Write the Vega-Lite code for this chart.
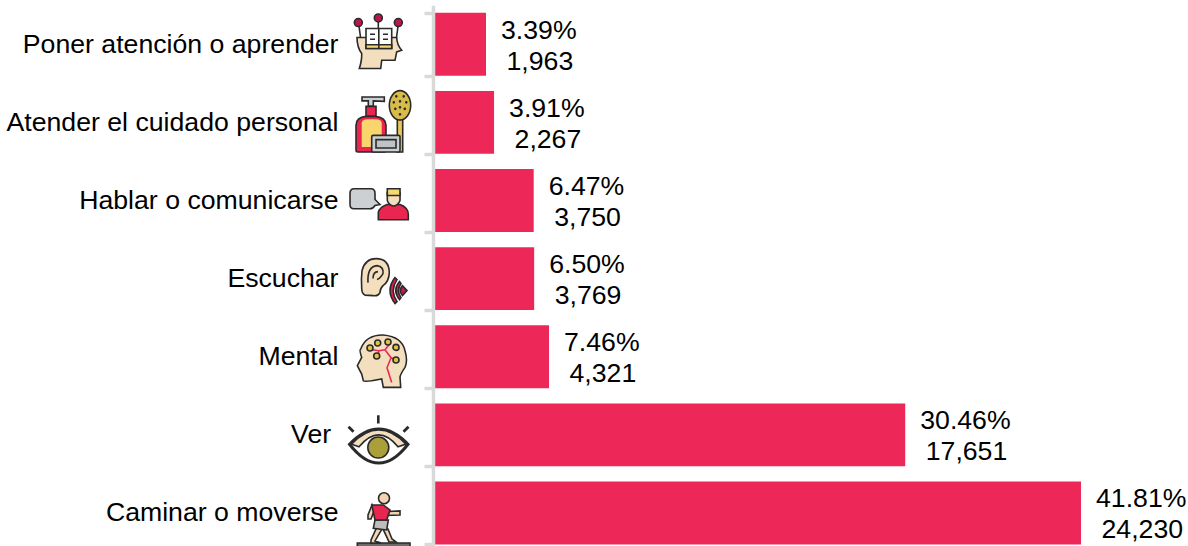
{"$schema":"https://vega.github.io/schema/vega-lite/v6.json","width":755,"height":546,"autosize":{"type":"none"},"padding":{"left":433,"top":0,"right":0,"bottom":0},"background":"white","config":{"view":{"stroke":null}},
"datasets":{"rows":[{"c":"Poner atención o aprender","p":3.39,"pct":"3.39%","n":"1,963"},{"c":"Atender el cuidado personal","p":3.91,"pct":"3.91%","n":"2,267"},{"c":"Hablar o comunicarse","p":6.47,"pct":"6.47%","n":"3,750"},{"c":"Escuchar","p":6.50,"pct":"6.50%","n":"3,769"},{"c":"Mental","p":7.46,"pct":"7.46%","n":"4,321"},{"c":"Ver","p":30.46,"pct":"30.46%","n":"17,651"},{"c":"Caminar o moverse","p":41.81,"pct":"41.81%","n":"24,230"}],
"icons":[
{"c":"Poner atención o aprender","part":"head1"},{"c":"Poner atención o aprender","part":"book"},{"c":"Poner atención o aprender","part":"strip"},{"c":"Poner atención o aprender","part":"booklines"},{"c":"Poner atención o aprender","part":"stems"},{"c":"Poner atención o aprender","part":"pins"},
{"c":"Atender el cuidado personal","part":"pump"},{"c":"Atender el cuidado personal","part":"neck"},{"c":"Atender el cuidado personal","part":"bottle"},{"c":"Atender el cuidado personal","part":"label"},{"c":"Atender el cuidado personal","part":"handle"},{"c":"Atender el cuidado personal","part":"brush"},{"c":"Atender el cuidado personal","part":"holes"},{"c":"Atender el cuidado personal","part":"soap"},{"c":"Atender el cuidado personal","part":"soapin"},
{"c":"Hablar o comunicarse","part":"bubble"},{"c":"Hablar o comunicarse","part":"torso"},{"c":"Hablar o comunicarse","part":"face"},{"c":"Hablar o comunicarse","part":"hair"},
{"c":"Escuchar","part":"ear"},{"c":"Escuchar","part":"earin"},{"c":"Escuchar","part":"waves"},{"c":"Escuchar","part":"wavedot"},
{"c":"Mental","part":"skull"},{"c":"Mental","part":"veins"},{"c":"Mental","part":"dots"},
{"c":"Ver","part":"eyeout"},{"c":"Ver","part":"eyewhite"},{"c":"Ver","part":"iris"},{"c":"Ver","part":"lid"},{"c":"Ver","part":"lashes"},
{"c":"Caminar o moverse","part":"platform"},{"c":"Caminar o moverse","part":"legs"},{"c":"Caminar o moverse","part":"shorts"},{"c":"Caminar o moverse","part":"arms"},{"c":"Caminar o moverse","part":"shirt"},{"c":"Caminar o moverse","part":"walkhead"}
]},
"layer":[
{"data":{"name":"rows"},"mark":{"type":"bar","color":"#EE2759"},"encoding":{
"x":{"field":"p","type":"quantitative","stack":null,"scale":{"domain":[0,41.81],"range":[0.5,648],"nice":false,"zero":false},"axis":null},
"y":{"field":"c","type":"nominal","sort":null,"title":null,"scale":{"domain":["Poner atención o aprender","Atender el cuidado personal","Hablar o comunicarse","Escuchar","Mental","Ver","Caminar o moverse"],"range":[5.2,552],"paddingInner":0.195,"paddingOuter":0.0975},
"axis":{"zindex":1,"domainColor":"#D9D9D9","domainWidth":3.5,"tickColor":"#D9D9D9","tickWidth":3.5,"tickSize":9,"tickBand":"extent","labelPadding":86,"labelFont":"Liberation Sans","labelFontSize":26.67,"labelColor":"black","labelLimit":1000,"title":null,"labelExpr":"datum.label=='Ver'?'Ver\u00a0\u200b':datum.label"}}}},
{"data":{"name":"rows"},"mark":{"type":"text","align":"left","baseline":"middle","dx":15,"dy":-13.5,"font":"Liberation Sans","fontSize":26.67,"color":"black"},"encoding":{"x":{"field":"p","type":"quantitative","scale":{"domain":[0,41.81],"range":[0.5,648],"nice":false,"zero":false},"axis":null},"y":{"field":"c","type":"nominal","sort":null},"text":{"field":"pct"}}},
{"data":{"name":"rows"},"mark":{"type":"text","align":"left","baseline":"middle","dx":20.5,"dy":17.5,"font":"Liberation Sans","fontSize":26.67,"color":"black"},"encoding":{"x":{"field":"p","type":"quantitative","scale":{"domain":[0,41.81],"range":[0.5,648],"nice":false,"zero":false},"axis":null},"y":{"field":"c","type":"nominal","sort":null},"text":{"field":"n"}}},
{"data":{"name":"icons"},"mark":{"type":"point","filled":true,"opacity":1,"size":4,"strokeWidth":1.6},"encoding":{
"x":{"datum":-3.454,"type":"quantitative","scale":{"domain":[0,41.81],"range":[0.5,648],"nice":false,"zero":false},"axis":null},
"y":{"field":"c","type":"nominal","sort":null},
"shape":{"field":"part","type":"nominal","legend":null,"scale":{"domain":["head1","book","strip","booklines","stems","pins","pump","neck","bottle","label","handle","brush","holes","soap","soapin","bubble","torso","face","hair","ear","earin","waves","wavedot","skull","veins","dots","eyeout","eyewhite","iris","lid","lashes","platform","legs","shorts","arms","shirt","walkhead"],
"range":[
"M-20.7 24.3 Q-18 16 -18.3 9.3 Q-23 3 -23 -6.7 L16.7 -6.7 Q17 1 21.7 6 L16.7 7.7 L15 16 L1.7 16 L0.7 24.3 Z",
"M-14 -15.7 L11.7 -15.7 L11.7 4.3 L-14 4.3 Z",
"M-14 0.5 L11.7 0.5 L11.7 4.3 L-14 4.3 Z",
"M-1.2 -15.7 L-1.2 4.3 M-10 -10 L-5 -10 M-10 -5 L-5 -5 M3 -10 L8 -10 M3 -5 L8 -5",
"M-21 -18 L-19.5 -7 M-1.7 -23 L-1.7 -15.7 M18 -18 L16.5 -7",
"M-25.7 -21.7 A4 4 0 1 0 -17.7 -21.7 A4 4 0 1 0 -25.7 -21.7 Z M-5.7 -26.3 A4 4 0 1 0 2.3 -26.3 A4 4 0 1 0 -5.7 -26.3 Z M14.3 -21.7 A4 4 0 1 0 22.3 -21.7 A4 4 0 1 0 14.3 -21.7 Z",
"M-18 -25.3 L4.3 -25.3 L4.3 -21 L-6.7 -21.5 L-6.7 -16 L-11.7 -16 L-11.7 -21.5 L-18 -21.5 Z",
"M-14 -16 L-4 -16 L-4 -6 L-14 -6 Z",
"M-24 28 L-24 3 Q-24 -5 -14 -6 L-5 -6 Q6 -5 6 3 L6 28 Q6 29.7 4 29.7 L-22 29.7 Q-24 29.7 -24 28 Z",
"M-18.3 24.7 L-18.3 1 Q-18.3 -3 -12 -3 L-5 -3 Q1.7 -3 1.7 1 L1.7 24.7 Z",
"M17.3 -3 L22.7 -3 L22.7 29.7 L17.3 29.7 Z",
"M9.3 -17 A10.7 14.7 0 1 0 30.7 -17 A10.7 14.7 0 1 0 9.3 -17 Z",
"M15 -26 A1.3 1.3 0 1 0 17.6 -26 A1.3 1.3 0 1 0 15 -26 Z M22.4 -26 A1.3 1.3 0 1 0 25 -26 A1.3 1.3 0 1 0 22.4 -26 Z M12.5 -20 A1.3 1.3 0 1 0 15.1 -20 A1.3 1.3 0 1 0 12.5 -20 Z M18.7 -21 A1.3 1.3 0 1 0 21.3 -21 A1.3 1.3 0 1 0 18.7 -21 Z M25 -20 A1.3 1.3 0 1 0 27.6 -20 A1.3 1.3 0 1 0 25 -20 Z M14 -13.5 A1.3 1.3 0 1 0 16.6 -13.5 A1.3 1.3 0 1 0 14 -13.5 Z M18.7 -15 A1.3 1.3 0 1 0 21.3 -15 A1.3 1.3 0 1 0 18.7 -15 Z M23.5 -13.5 A1.3 1.3 0 1 0 26.1 -13.5 A1.3 1.3 0 1 0 23.5 -13.5 Z M18.7 -8 A1.3 1.3 0 1 0 21.3 -8 A1.3 1.3 0 1 0 18.7 -8 Z",
"M-8.3 14.5 Q-8.3 13 -7 13 L18.5 13 Q20 13 20 14.5 L20 28 Q20 29.7 18.5 29.7 L-7 29.7 Q-8.3 29.7 -8.3 28 Z",
"M-4 17.3 L16 17.3 L16 25.7 L-4 25.7 Z",
"M-26 -11.7 L-9 -11.7 Q-5 -11.7 -5 -7 L-5 -1 L0 4 L-5 5 Q-7 8.3 -10 8.3 L-26 8.3 Q-30 8.3 -30 4 L-30 -7 Q-30 -11.7 -26 -11.7 Z",
"M-1.7 19.3 L-1.7 12 Q-1 7 7 4 L20 4 Q28.3 7 28.3 14 L28.3 19.3 Z",
"M7.3 -8 L20 -8 L20 0 Q18 5 13.7 5.5 Q9 5 7.3 0 Z",
"M7.3 -5 L7.3 -11.7 L20 -11.7 L20 -5 Z",
"M-18.3 10 Q-19 0 -18 -8 Q-15 -20 -4 -20 Q9 -20 9.3 -6 Q9 3 3 7 Q0 10 0 14 Q-2 18 -7 17 L-15 16.5 Q-18.3 15 -18.3 10 Z",
"M-12 4 Q-13 -12 -3 -13 Q4 -12 3 -5 Q0 0 -3 1 M-7 0 Q-7 -7 -2 -7",
"M15 -1 Q5 12 15 25 L17 23 Q9.5 12 17 1 Z M19.5 3 Q12 12 19.5 21 L21 19 Q16 12 21 5 Z",
"M22.5 7 Q18 12 22.5 17 L27 12 Z",
"M3.3 30.7 L1.7 22.3 L-8.3 24 Q-16 25 -16.7 24 L-18.3 17.3 L-22.7 9 L-18.3 0.7 Q-21 -7 -19.3 -7.7 Q-14 -22 3.3 -21.7 Q22 -20 25 -6 Q28 4 25 10.7 Q20 18 20 20.7 L20.7 30.7 Z",
"M-8 -7 L-1 -6 L5 -7 L9 -12 M5 -7 L11 1 L7 11 L11.7 25.7 M11 1 L15 3 M-1 -6 L-2 -2",
"M-13 -8.7 A3 3 0 1 0 -7 -8.7 A3 3 0 1 0 -13 -8.7 Z M-5.3 -13.7 A3 3 0 1 0 0.7 -13.7 A3 3 0 1 0 -5.3 -13.7 Z M5 -14.7 A3 3 0 1 0 11 -14.7 A3 3 0 1 0 5 -14.7 Z M13 -9.3 A3 3 0 1 0 19 -9.3 A3 3 0 1 0 13 -9.3 Z M-6.3 -0.7 A3 3 0 1 0 -0.3 -0.7 A3 3 0 1 0 -6.3 -0.7 Z M13 3.3 A3 3 0 1 0 19 3.3 A3 3 0 1 0 13 3.3 Z",
"M-32.5 9.3 Q-1.2 -24 30 9.3 Q-1.2 50 -32.5 9.3 Z",
"M-28.5 9.3 Q-1.2 -19 26 9.3 Q-1.2 44 -28.5 9.3 Z",
"M-12.2 12.7 A10.5 10.5 0 1 0 8.8 12.7 A10.5 10.5 0 1 0 -12.2 12.7 Z",
"M-28.5 9.3 Q-1.2 -19 26 9.3 L18 12 Q-1.2 -12 -21 12 Z",
"M-3 -19.5 L-0.4 -19.5 L-0.4 -11.3 L-3 -11.3 Z M-30.5 -9 L-32.5 -7 L-27.5 -2 L-25.5 -4 Z M27.5 -9 L29.5 -7 L24.5 -2 L22.5 -4 Z",
"M-22.7 30 L30 30 L30 34 L-22.7 34 Z",
"M-3.5 15 L2 16 L-5 28 L1 30 L-9 30 L-9 27 Z M3 16 L8 16 L12 26 L16 29 L9 29 Z",
"M-5 7 L8.3 7 L6.7 17 L-6.7 15.3 Z",
"M-8 -8 L-12 2 L-12 6 L-9 6 L-6 -2 Z M8 -1.5 L20 -2 L20 2 L6 2.5 Z",
"M-8.3 -8 L3.3 -8 L10 -3 L6.7 7 L-5 7 Z",
"M-1.5 -14.7 A5.5 5.5 0 1 0 9.5 -14.7 A5.5 5.5 0 1 0 -1.5 -14.7 Z"
]}},
"fill":{"field":"part","type":"nominal","legend":null,"scale":{"domain":["head1","book","strip","booklines","stems","pins","pump","neck","bottle","label","handle","brush","holes","soap","soapin","bubble","torso","face","hair","ear","earin","waves","wavedot","skull","veins","dots","eyeout","eyewhite","iris","lid","lashes","platform","legs","shorts","arms","shirt","walkhead"],
"range":["#F3DFBE","#FFFFFF","#F5D873","transparent","transparent","#B5174F","#CDD0D2","#E8264F","#E8264F","#F9D56E","#E8C75A","#D8BC4A","#2B2A2A","#CDD0D2","#BFC3C6","#CDD0D2","#E8264F","#F3DFBE","#F5D873","#F3DFBE","transparent","#E0204F","#C2174F","#F3DFBE","transparent","#E0C24A","#2B2A2A","#FFFFFF","#AA9F38","#F3DFBE","#2B2A2A","#6B6B6B","#F0D5B0","#BDBDBD","#F0D5B0","#E8264F","#F0D5B0"]}},
"stroke":{"field":"part","type":"nominal","legend":null,"scale":{"domain":["head1","book","strip","booklines","stems","pins","pump","neck","bottle","label","handle","brush","holes","soap","soapin","bubble","torso","face","hair","ear","earin","waves","wavedot","skull","veins","dots","eyeout","eyewhite","iris","lid","lashes","platform","legs","shorts","arms","shirt","walkhead"],
"range":["#2B2A2A","#2B2A2A","#2B2A2A","#2B2A2A","#2B2A2A","#2B2A2A","#2B2A2A","#2B2A2A","#2B2A2A","transparent","#2B2A2A","#2B2A2A","transparent","#2B2A2A","#2B2A2A","#2B2A2A","#2B2A2A","#2B2A2A","#2B2A2A","#2B2A2A","#2B2A2A","#2B2A2A","#2B2A2A","#2B2A2A","#EE2759","#2B2A2A","transparent","transparent","#2B2A2A","#2B2A2A","transparent","#2B2A2A","#2B2A2A","#2B2A2A","#2B2A2A","#2B2A2A","#2B2A2A"]}}
}}
]}
